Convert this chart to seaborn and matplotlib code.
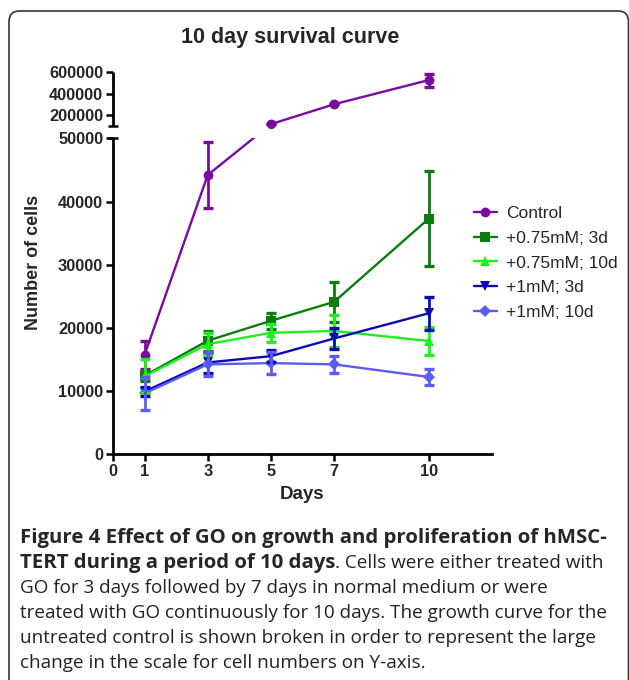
import numpy as np
import pandas as pd
import matplotlib
matplotlib.use("Agg")
import matplotlib.pyplot as plt
import matplotlib.transforms as mtransforms
from matplotlib.patches import FancyBboxPatch, Rectangle
from matplotlib.lines import Line2D
import seaborn as sns

# ---------------- data ----------------
days = [1, 3, 5, 7, 10]
groups = ["Control", "+0.75mM; 3d", "+0.75mM; 10d", "+1mM; 3d", "+1mM; 10d"]
control = [15700, 44200, 115000, 300000, 525000]
control_err = [2200, 5300, 0, 0, 60000]
mm075_3d = [12400, 17950, 21100, 24100, 37300]
mm075_3d_err = [800, 1600, 1300, 3200, 7500]
mm075_10d = [12300, 17400, 19200, 19500, 17900]
mm075_10d_err = [2700, 1700, 1400, 2500, 2200]
mm1_3d = [9900, 14500, 15500, 18300, 22300]
mm1_3d_err = [700, 1700, 1000, 1600, 2600]
mm1_10d = [9600, 14200, 14400, 14200, 12200]
mm1_10d_err = [2600, 1900, 1700, 1400, 1200]

y_ticks = [0, 10000, 20000, 30000, 40000, 50000, 200000, 400000, 600000]
x_ticks = [0, 1, 3, 5, 7, 10]

series = [control, mm075_3d, mm075_10d, mm1_3d, mm1_10d]
errors = [control_err, mm075_3d_err, mm075_10d_err, mm1_3d_err, mm1_10d_err]
colors = ["#7a0aa0", "#0a7d0a", "#1ef01e", "#0a0ab4", "#5c5cf5"]
markers = ["o", "s", "^", "v", "D"]
msizes = [7, 7, 7.5, 7.5, 6]

df = pd.DataFrame({
    "Days": np.tile(days, len(groups)),
    "cells": np.concatenate(series),
    "group": np.repeat(groups, len(days)),
})

# ---------------- broken scale ----------------
LOW_TOP, UP_BOT, GAP, K = 50000, 100000, 2000, 58.7

def fwd(v):
    v = np.asarray(v, float)
    return np.where(v <= LOW_TOP, v,
                    np.where(v < UP_BOT, LOW_TOP + (v - LOW_TOP) * GAP / (UP_BOT - LOW_TOP),
                             LOW_TOP + GAP + (v - UP_BOT) / K))

def inv(t):
    t = np.asarray(t, float)
    return np.where(t <= LOW_TOP, t,
                    np.where(t < LOW_TOP + GAP, LOW_TOP + (t - LOW_TOP) * (UP_BOT - LOW_TOP) / GAP,
                             UP_BOT + (t - LOW_TOP - GAP) * K))

sns.set_theme(style="white")
CHART_FONT = ["Liberation Sans", "DejaVu Sans"]
plt.rcParams["font.family"] = CHART_FONT

W, H = 629, 680
fig = plt.figure(figsize=(W / 100, H / 100), dpi=100)
ax = fig.add_axes([113 / W, 1 - 454 / H, (492 - 113) / W, (454 - 72) / H])
ax.set_yscale("function", functions=(fwd, inv))
ax.set_xlim(0, 12)
ax.set_ylim(0, 600000)

# lines + markers
pal = dict(zip(groups, colors))
sns.lineplot(data=df, x="Days", y="cells", hue="group", style="group",
             hue_order=groups, style_order=groups, palette=pal,
             markers=dict(zip(groups, markers)), dashes=False,
             linewidth=1.7, markersize=7, markeredgewidth=0,
             legend=False, ax=ax, zorder=2)
for ln, ms in zip(ax.lines, msizes):
    ln.set_markersize(ms)

# error bars
for vals, err, c in zip(series, errors, colors):
    ax.errorbar(days, vals, yerr=err, fmt="none", ecolor=c, elinewidth=2.0,
                capsize=3.6, capthick=2.4, zorder=2)

# hide the gap
blend = mtransforms.blended_transform_factory(ax.transAxes, ax.transData)
ax.add_patch(Rectangle((0.004, LOW_TOP), 1.0, UP_BOT - LOW_TOP, transform=blend,
                       facecolor="white", edgecolor="none", zorder=3, clip_on=False))
# control markers above the gap redrawn
sns.scatterplot(x=days[2:], y=control[2:], color=colors[0], marker="o", s=45,
                linewidth=0, ax=ax, zorder=4, legend=False)

# spines
sns.despine(ax=ax, left=True)
ax.spines["bottom"].set_linewidth(2)
ax.spines["bottom"].set_color("black")
ax.plot([0, 0], [0, LOW_TOP], transform=blend, color="black", lw=2, clip_on=False, zorder=5,
        solid_capstyle="butt")
ax.plot([0, 0], [UP_BOT, 600000], transform=blend, color="black", lw=2, clip_on=False, zorder=5,
        solid_capstyle="butt")
ax.plot([0, 0], [LOW_TOP, UP_BOT], transform=blend, color="black", lw=0, marker="_",
        markersize=7, markeredgewidth=1.8, clip_on=False, zorder=5)

ax.set_yticks(y_ticks)
ax.set_yticklabels([str(v) for v in y_ticks])
ax.yaxis.set_minor_locator(matplotlib.ticker.NullLocator())
ax.set_xticks(x_ticks)
ax.set_xticklabels([str(v) for v in x_ticks])
ax.tick_params(axis="both", which="major", length=5, width=1.8, color="black",
               labelsize=11.8, pad=2, left=True, bottom=True)
for lab in ax.get_xticklabels() + ax.get_yticklabels():
    lab.set_fontweight("bold")
    lab.set_family(CHART_FONT)
ax.set_xlabel("Days", fontsize=13.5, fontweight="bold", labelpad=5, family=CHART_FONT)
ax.set_ylabel("")
fig.text(33 / W, 1 - 262 / H, "Number of cells", rotation=90, ha="center", va="center",
         fontsize=13, fontweight="bold", family=CHART_FONT)
fig.text(290 / W, 1 - 37 / H, "10 day survival curve", ha="center", va="center",
         fontsize=15.5, fontweight="bold", family=CHART_FONT)

# legend
handles = [Line2D([0], [0], color=c, marker=m, markersize=ms, markeredgewidth=0, lw=1.7)
           for c, m, ms in zip(colors, markers, msizes)]
fig.legend(handles, groups, loc="upper left", bbox_to_anchor=(474 / W, 1 - 206 / H),
           frameon=False, prop={"family": CHART_FONT, "size": 12.5},
           handlelength=1.3, handletextpad=0.55,
           labelspacing=0.55, borderaxespad=0, borderpad=0)

# frame
fig.patches.append(FancyBboxPatch((9 / W, -0.05), 619.5 / W, 1 - 11 / H + 0.05,
                                  boxstyle="round,pad=0,rounding_size=0.016",
                                  transform=fig.transFigure, facecolor="none",
                                  edgecolor="#333333", linewidth=1.2, figure=fig))

# caption
cap_font = ["Open Sans", "DejaVu Sans"]
cfs_b = 14.7
cfs = 13.6
x0 = 20 / W
lines_y = [538, 563, 588, 613, 638, 663]
fig.text(x0, 1 - lines_y[0] / H, "Figure 4 Effect of GO on growth and proliferation of hMSC-",
         fontsize=cfs_b, fontweight="bold", family=cap_font, va="center")
t2 = fig.text(x0, 1 - lines_y[1] / H, "TERT during a period of 10 days",
              fontsize=cfs_b, fontweight="bold", family=cap_font, va="center")
fig.canvas.draw()
bb = t2.get_window_extent(renderer=fig.canvas.get_renderer())
fig.text(bb.x1 / W, 1 - lines_y[1] / H, ". Cells were either treated with",
         fontsize=cfs, family=cap_font, va="center", color="#222222")
rest = ["GO for 3 days followed by 7 days in normal medium or were",
        "treated with GO continuously for 10 days. The growth curve for the",
        "untreated control is shown broken in order to represent the large",
        "change in the scale for cell numbers on Y-axis."]
for s, yy in zip(rest, lines_y[2:]):
    fig.text(x0, 1 - yy / H, s, fontsize=cfs, family=cap_font, va="center", color="#222222")

fig.savefig("out.png", dpi=100)
